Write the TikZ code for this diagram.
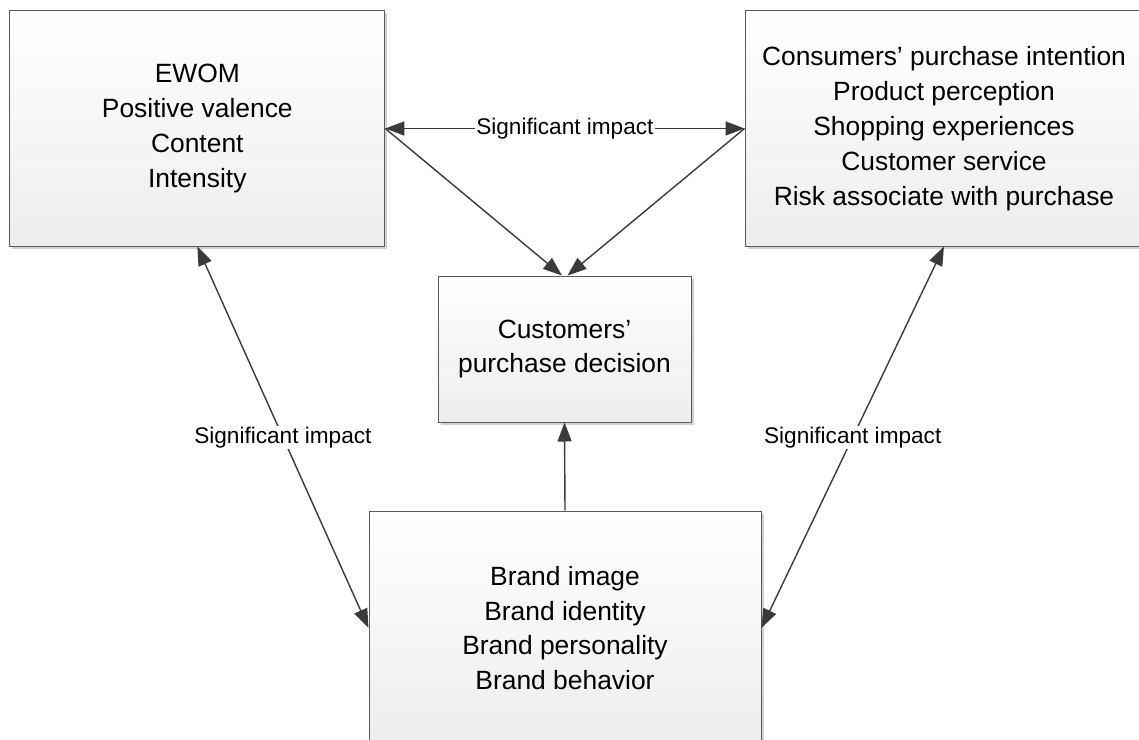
\documentclass[tikz,border=0pt]{standalone}
\usepackage{fontspec}
\setmainfont{Liberation Sans}
\usetikzlibrary{arrows.meta,shadows}
\definecolor{linegray}{HTML}{3A3A3A}
\definecolor{boxborder}{HTML}{5A5A5A}
\begin{document}
\begin{tikzpicture}[x=1bp,y=-1bp,
  box/.style={draw=boxborder, line width=1bp, rectangle, align=center,
    top color=white, bottom color=black!7, inner sep=0pt,
    drop shadow={shadow xshift=2.5bp, shadow yshift=-2.5bp, fill=black!18, opacity=1},
    font=\fontsize{26.5}{35}\selectfont},
  conn/.style={draw=linegray, line width=1.4bp, {Triangle[length=19bp,width=14bp]}-{Triangle[length=19bp,width=14bp]}},
  oneway/.style={draw=linegray, line width=1.4bp, -{Triangle[length=19bp,width=14bp]}},
  lbl/.style={fill=white, inner sep=1bp, font=\fontsize{22.7}{27}\selectfont}
]
\useasboundingbox (0,0) rectangle (1139,740);
\node[box, minimum width=375bp, minimum height=235bp] (ewom) at (197.3,128.5)
  {EWOM\\Positive valence\\Content\\Intensity};
\node[box, minimum width=398bp, minimum height=235bp] (cons) at (944,128.5)
  {Consumers’ purchase intention\\Product perception\\Shopping experiences\\Customer service\\Risk associate with purchase};
\node[box, minimum width=253bp, minimum height=146bp] (dec) at (564.5,349)
  {Customers’\\purchase decision};
\node[box, minimum width=392bp, minimum height=234bp] (brand) at (565,628)
  {Brand image\\Brand identity\\Brand personality\\Brand behavior};
\coordinate (dl) at ([xshift=-2.5bp]dec.north);
\coordinate (dr) at ([xshift=3bp]dec.north);
\draw[conn] (ewom.east) -- node[lbl] (l1) {Significant impact} (cons.west);
\draw[oneway] (ewom.east) -- (dl);
\draw[oneway] (cons.west) -- (dr);
\draw[oneway] (brand.north) -- (dec.south);
\draw[conn] (ewom.south) -- node[lbl] (l2) {Significant impact} (brand.west);
\draw[conn] (cons.south) -- node[lbl] (l3) {Significant impact} (brand.east);
\end{tikzpicture}
\end{document}
